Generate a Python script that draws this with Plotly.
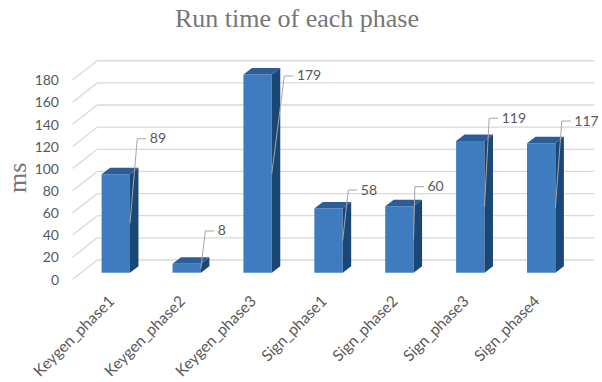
import plotly.graph_objects as go

# ---- data ----
categories = ["Keygen_phase1", "Keygen_phase2", "Keygen_phase3",
              "Sign_phase1", "Sign_phase2", "Sign_phase3", "Sign_phase4"]
run_time_ms = [89, 8, 179, 58, 60, 119, 117]
y_ticks = [0, 20, 40, 60, 80, 100, 120, 140, 160, 180]

# ---- pixel geometry of the pseudo-3D view ----
W, H = 602, 382
M_L, M_R, M_T, M_B = 66, 4, 50, 98
CAT_PX = 70.9          # px per category on the bar plane
FIRST_CENTER_PX = 115.8
ZERO_PX = 272.7        # y pixel of value 0 on the bar plane
UNIT_PX = 1.107        # px per ms
BAR_W = 0.4

plot_w = W - M_L - M_R
plot_h = H - M_T - M_B
x_min = -(FIRST_CENTER_PX - M_L) / CAT_PX
x_max = x_min + plot_w / CAT_PX
y_max = (ZERO_PX - M_T) / UNIT_PX
y_min = y_max - plot_h / UNIT_PX


def px_x(dpx):
    return dpx / CAT_PX


def px_y(dpx):
    # positive = upward
    return dpx / UNIT_PX


# bar depth
DEPTH_DX, DEPTH_DY = px_x(8.5), px_y(6.5)
# back wall and front edge of the side wall, relative to the bar plane
BACK_DX, BACK_DY = px_x(97.3 - 80.4), px_y(12.7)
FRONT_DX, FRONT_DY = px_x(72.7 - 80.4), px_y(-6.6)
WALL_LEFT = -0.5
WALL_RIGHT = (594 - FIRST_CENTER_PX) / CAT_PX

# data-label leader placement (elbow offset from bar's right edge)
label_dx_px = [7.3, 4.4, 12.6, 5.6, 1.3, 4.7, 6.4]
label_dy = [32, 29.7, -1.3, 16.7, 17.7, 20.5, 20]

FRONT_C = "#3e7cbf"
TOP_C = "#2c5d96"
SIDE_C = "#1a4876"
GRID_C = "#d9d9d9"
TEXT_C = "#595959"

fig = go.Figure()

# back wall gridlines + side wall lines (drawn beneath the bars)
shapes = []
for v in y_ticks:
    yb = v + BACK_DY
    shapes.append(dict(type="line", xref="x", yref="y", layer="below",
                       x0=WALL_LEFT + BACK_DX, y0=yb, x1=WALL_RIGHT, y1=yb,
                       line=dict(color=GRID_C, width=1.3)))
    shapes.append(dict(type="line", xref="x", yref="y", layer="below",
                       x0=WALL_LEFT + FRONT_DX, y0=v + FRONT_DY,
                       x1=WALL_LEFT + BACK_DX, y1=yb,
                       line=dict(color=GRID_C, width=1.3)))

idx = list(range(len(categories)))

# front faces
fig.add_trace(go.Bar(x=idx, y=run_time_ms, width=BAR_W,
                     marker=dict(color=FRONT_C, line=dict(width=0)),
                     hoverinfo="skip", showlegend=False))

# side and top faces
side_x, side_y, top_x, top_y = [], [], [], []
for i, v in zip(idx, run_time_ms):
    xl, xr = i - BAR_W / 2, i + BAR_W / 2
    side_x += [xr, xr, xr + DEPTH_DX, xr + DEPTH_DX, xr, None]
    side_y += [0, v, v + DEPTH_DY, DEPTH_DY, 0, None]
    top_x += [xl, xr, xr + DEPTH_DX, xl + DEPTH_DX, xl, None]
    top_y += [v, v, v + DEPTH_DY, v + DEPTH_DY, v, None]

fig.add_trace(go.Scatter(x=side_x, y=side_y, mode="lines", fill="toself",
                         fillcolor=SIDE_C, line=dict(width=0, color=SIDE_C),
                         hoverinfo="skip", showlegend=False))
fig.add_trace(go.Scatter(x=top_x, y=top_y, mode="lines", fill="toself",
                         fillcolor=TOP_C, line=dict(width=0, color=TOP_C),
                         hoverinfo="skip", showlegend=False))

# leader lines and value labels
lead_x, lead_y, lab_x, lab_y, lab_t = [], [], [], [], []
for i, v, dxp, dy in zip(idx, run_time_ms, label_dx_px, label_dy):
    xr = i + BAR_W / 2
    ex = xr + px_x(dxp)
    ey = v + dy
    lead_x += [xr, ex, ex + px_x(9), None]
    lead_y += [v / 2, ey, ey, None]
    lab_x.append(ex + px_x(12.5))
    lab_y.append(ey - px_y(1))
    lab_t.append(str(v))

fig.add_trace(go.Scatter(x=lead_x, y=lead_y, mode="lines",
                         line=dict(color="#a6a6a6", width=1),
                         hoverinfo="skip", showlegend=False))
fig.add_trace(go.Scatter(x=lab_x, y=lab_y, mode="text", text=lab_t,
                         textposition="middle right",
                         textfont=dict(family="Lato", size=14, color=TEXT_C),
                         cliponaxis=False, hoverinfo="skip", showlegend=False))

fig.update_layout(
    width=W, height=H,
    margin=dict(l=M_L, r=M_R, t=M_T, b=M_B, autoexpand=False),
    paper_bgcolor="white", plot_bgcolor="white",
    shapes=shapes,
    title=dict(text="Run time of each phase", x=297 / W, xref="container",
               xanchor="center", y=1 - 18 / H, yref="container", yanchor="middle",
               font=dict(family="Liberation Serif", size=26, color="#767676")),
    annotations=[dict(text="ms", xref="paper", yref="paper",
                      x=(17 - M_L) / plot_w, y=(M_T + plot_h - 178) / plot_h,
                      textangle=-90, showarrow=False,
                      xanchor="center", yanchor="middle",
                      font=dict(family="Liberation Serif", size=26, color="#767676"))],
    xaxis=dict(range=[x_min, x_max], tickvals=idx, ticktext=categories,
               tickangle=-45, showgrid=False, zeroline=False, showline=False,
               ticks="", automargin=False, ticklabelstandoff=4, ticklabelshift=-6,
               tickfont=dict(family="Lato", size=15.5, color=TEXT_C)),
    yaxis=dict(range=[y_min, y_max], tickvals=y_ticks, showgrid=False,
               zeroline=False, showline=False, ticks="", automargin=False,
               ticklabelstandoff=6, ticklabelshift=7,
               tickfont=dict(family="Lato", size=14, color=TEXT_C)),
)

fig.write_html("out.html")
